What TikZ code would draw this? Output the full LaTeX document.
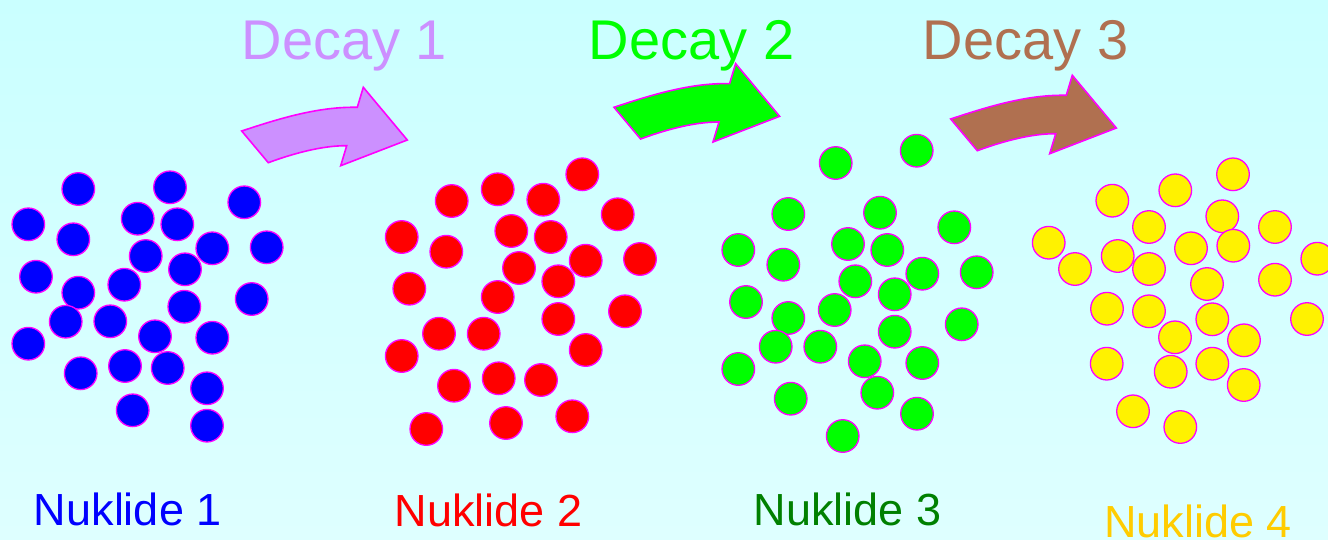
\documentclass[tikz,border=0pt]{standalone}
\usepackage{fontspec}
\setmainfont{Liberation Sans}
\definecolor{lav}{RGB}{204,144,255}
\definecolor{brn}{RGB}{176,112,80}
\definecolor{mag}{RGB}{255,0,255}
\definecolor{bgtop}{RGB}{202,255,255}
\definecolor{bgbot}{RGB}{222,255,255}
\definecolor{gold}{RGB}{255,204,0}
\definecolor{dgreen}{RGB}{0,128,0}
\definecolor{lime}{RGB}{0,255,0}
\tikzset{
  decayarrow/.pic={
    \draw[pic actions] (0,0) .. controls (38.5,-12.8) and (77,-24.5) .. (115.6,-23.7)
      -- (121.6,-43.7) -- (165.6,9) -- (99,34.7) -- (105,14.7)
      .. controls (80,14.5) and (50,23) .. (26.6,31.7) -- cycle;
  },
  arrowstyle/.style={draw=mag, line width=1.6, line join=miter},
  ball/.style={fill=#1, draw=mag, line width=1.3},
  decaytext/.style={inner sep=0, outer sep=0, anchor=base west, font=\fontsize{56}{60}\selectfont},
  nuktext/.style={inner sep=0, outer sep=0, anchor=base west, font=\fontsize{45}{50}\selectfont},
}
\begin{document}
\begin{tikzpicture}[x=1pt, y=-1pt]
\useasboundingbox (0,0) rectangle (1328,539);
\clip (0,0) rectangle (1328,539);
\shade[top color=bgtop, bottom color=bgbot] (0,0) rectangle (1328,539);

% Decay arrows
\pic[fill=lav, arrowstyle] at (241.7,131) {decayarrow};
\pic[fill=lime, arrowstyle] at (614,107.3) {decayarrow};
\pic[fill=brn, arrowstyle] at (950.7,119) {decayarrow};

% Decay labels
\node[decaytext, text=lav] (d1) at (241.6,59) {Decay 1};
\node[decaytext, text=lime] (d2) at (588.9,59) {Decay 2};
\node[decaytext, text=brn] (d3) at (922.9,59) {Decay 3};

% Nuklide 1 (blue)
\foreach \p in {(78.3,189),(170,187.3),(244.3,202.3),(28.3,224.3),(137.7,218.7),(177.3,224.3),(73.3,239.3),(212.3,248.3),(266.7,247.3),(145.7,256),(185,269.3),(36,276.7),(78.3,292.7),(124.3,284.7),(251.7,299),(184.3,306.7),(65.7,321.7),(110.3,321.3),(28.3,343.7),(155,336.3),(212.3,337.7),(80.7,373.3),(125,366),(167.7,368),(207,388.3),(132.7,410.3),(207,425.7)}
  \draw[ball=blue] \p circle (16.3);

% Nuklide 2 (red)
\foreach \p in {(582.3,174.3),(497.7,189.3),(451.7,201),(543.3,199.7),(617.7,214.3),(401.7,237),(511.3,231),(550.7,237),(446.3,251.7),(640,259),(585.7,260.7),(519,268),(558.3,281.3),(409.3,288.7),(497.7,297),(625,311.3),(558.3,319),(439,333.7),(483.7,333.7),(401.7,356),(585.7,350),(454,385.7),(498.7,378.3),(541,380),(426.3,429),(506,423),(572.3,416.3)}
  \draw[ball=red] \p circle (16.3);

% Nuklide 3 (green)
\foreach \p in {(835.7,163),(916.7,150.7),(788.3,214),(880,212.7),(954.3,227.3),(738.3,250),(848,244),(887.3,250),(783.3,264.7),(922.3,273.7),(976.7,272.3),(855.3,281.3),(894.7,294.3),(746,302),(834.7,310),(788.3,318),(961.7,324.3),(894.7,331.7),(775.7,346.7),(820.3,346.7),(738.3,369),(864.7,361.3),(922.3,363),(877.3,392.7),(790.7,398.7),(917,413.7),(842.7,436)}
  \draw[ball=lime] \p circle (16.3);

% Nuklide 4 (yellow)
\foreach \p in {(1233,174.3),(1175.3,190.3),(1112.3,200.7),(1222.3,216.3),(1149,227),(1275,227),(1048.7,242.7),(1233.3,245.7),(1191,248.3),(1117.7,256),(1317.3,258.7),(1075,269),(1149,269),(1275,279.7),(1207,284),(1107,308.7),(1149,311.3),(1307,319),(1212.3,319.3),(1175,337.3),(1244,340.3),(1106.7,363.7),(1170.7,371.7),(1212.3,363.7),(1243.7,385),(1133,411.3),(1180.3,427)}
  \draw[ball=yellow] \p circle (16.3);

% Nuklide labels
\node[nuktext, text=blue] (n1) at (34,525.7) {Nuklide 1};
\node[nuktext, text=red] (n2) at (394.6,526) {Nuklide 2};
\node[nuktext, text=dgreen] (n3) at (753.6,525.5) {Nuklide 3};
\node[nuktext, text=gold] (n4) at (1104,537) {Nuklide 4};
\end{tikzpicture}
\end{document}
